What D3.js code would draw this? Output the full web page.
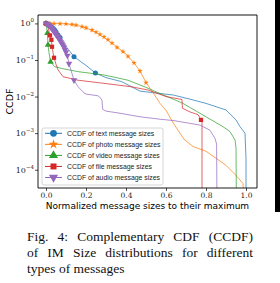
<!DOCTYPE html>
<html><head><meta charset="utf-8">
<script src="https://cdn.jsdelivr.net/npm/d3@7"></script>
<style>body{margin:0;background:#fff}svg{display:block}</style>
</head><body><svg id="c" width="280" height="283"></svg>
<script>
// ---------- data ----------
const xTicks = [0, 0.2, 0.4, 0.6, 0.8, 1.0];
const yTickExps = [0, -1, -2, -3, -4];
const seriesNames = ["CCDF of text message sizes","CCDF of photo message sizes","CCDF of video message sizes","CCDF of file message sizes","CCDF of audio message sizes"];

const textLine = [[0,1],[0.02,0.85],[0.043,0.66],[0.06,0.48],[0.077,0.355],[0.1,0.234],[0.14,0.123],[0.2,0.071],[0.247,0.044],[0.3,0.033],[0.377,0.0257],[0.47,0.0141],[0.55,0.0125],[0.637,0.011],[0.72,0.0085],[0.8,0.0065],[0.9,0.0043],[0.95,0.0023],[0.97,0.0015],[0.995,0.001],[1.0,0.0002],[1.0,0.00001]];
const textMarks = [[0,1],[0.006,0.96],[0.012,0.92],[0.018,0.87],[0.024,0.82],[0.03,0.77],[0.036,0.72],[0.043,0.66],[0.05,0.58],[0.06,0.48],[0.07,0.41],[0.14,0.123],[0.247,0.044]];

const photoLine = [[0,1],[0.05,0.99],[0.1,0.97],[0.15,0.89],[0.2,0.76],[0.25,0.575],[0.3,0.38],[0.35,0.24],[0.4,0.145],[0.44,0.083],[0.47,0.05],[0.5,0.024],[0.537,0.0123],[0.57,0.0065],[0.6,0.0042],[0.637,0.00186],[0.69,0.00068],[0.735,0.00043],[0.8,0.00032],[0.9,0.000132],[0.95,0.00007],[0.985,0.000042],[0.99,0.00001]];
const photoMarks = [[0,1],[0.02,1],[0.04,0.99],[0.07,0.98],[0.1,0.97],[0.13,0.94],[0.15,0.9],[0.18,0.82],[0.2,0.76],[0.23,0.66],[0.25,0.575],[0.27,0.5],[0.29,0.43],[0.31,0.36],[0.33,0.29],[0.355,0.22],[0.385,0.17],[0.41,0.125],[0.44,0.083],[0.47,0.05],[0.5,0.024]];

const videoLine = [[0,1],[0.003,0.79],[0.007,0.54],[0.01,0.257],[0.015,0.158],[0.023,0.089],[0.043,0.066],[0.077,0.059],[0.16,0.048],[0.29,0.039],[0.41,0.028],[0.5,0.0178],[0.55,0.0135],[0.685,0.0065],[0.8,0.0028],[0.885,0.0015],[0.92,0.0011],[0.945,0.00065],[0.95,0.0004],[0.952,0.00001]];
const videoMarks = [[0,1],[0.007,0.54],[0.01,0.257],[0.023,0.089]];

const fileLine = [[0,1],[0.01,0.79],[0.02,0.47],[0.027,0.355],[0.03,0.23],[0.04,0.115],[0.05,0.076],[0.06,0.054],[0.085,0.035],[0.16,0.028],[0.29,0.023],[0.425,0.0186],[0.51,0.0151],[0.6,0.01],[0.68,0.0083],[0.682,0.0048],[0.72,0.0038],[0.76,0.0032],[0.775,0.0023],[0.78,0.0022],[0.78,0.00001]];
const fileMarks = [[0,1],[0.02,0.47],[0.027,0.355],[0.03,0.23],[0.04,0.115],[0.775,0.0023]];

const audioLine = [[0,1],[0.02,0.83],[0.04,0.6],[0.06,0.42],[0.08,0.28],[0.095,0.19],[0.107,0.132],[0.115,0.079],[0.14,0.028],[0.16,0.0186],[0.19,0.0126],[0.2,0.0117],[0.26,0.0105],[0.275,0.0089],[0.28,0.0076],[0.283,0.0045],[0.3,0.004],[0.37,0.0035],[0.47,0.0028],[0.57,0.0024],[0.64,0.0022],[0.77,0.00166],[0.82,0.0012],[0.845,0.00072],[0.853,0.0005],[0.855,0.00001]];
const audioMarks = [[0,1],[0.005,0.97],[0.01,0.93],[0.015,0.88],[0.02,0.83],[0.025,0.77],[0.03,0.71],[0.035,0.65],[0.04,0.6],[0.045,0.55],[0.05,0.5],[0.055,0.46],[0.06,0.42],[0.065,0.38],[0.07,0.34],[0.075,0.31],[0.08,0.28],[0.085,0.25],[0.09,0.22],[0.095,0.19],[0.1,0.165],[0.107,0.132],[0.115,0.079],[0.14,0.028]];

const captionLines = ["Fig. 4: Complementary CDF (CCDF)","of IM Size distributions for different","types of messages"];

// ---------- chart ----------
const colors = ["#1f77b4","#ff7f0e","#2ca02c","#d62728","#9467bd"];
const symbols = [d3.symbolCircle, d3.symbolStar, d3.symbolTriangle, d3.symbolSquare, d3.symbolTriangle];
const rotations = [0,0,0,0,180];
const markSize = [20, 10, 18, 18, 18];
const lines = [textLine, photoLine, videoLine, fileLine, audioLine];
const marks = [textMarks, photoMarks, videoMarks, fileMarks, audioMarks];

const L = 38, R = 257, T = 15, B = 188;
const svg = d3.select("#c");
const x = d3.scaleLinear().domain([-0.04, 1.055]).range([L, R]);
const y = d3.scaleLog().domain([Math.pow(10,-4.5), Math.pow(10,0.23)]).range([B, T]);

svg.append("defs").append("clipPath").attr("id","clip")
  .append("rect").attr("x",L).attr("y",T).attr("width",R-L).attr("height",B-T);

const plot = svg.append("g").attr("clip-path","url(#clip)");
const lineGen = d3.line().x(d=>x(d[0])).y(d=>y(d[1]));

lines.forEach((data,i)=>{
  const g = plot.append("g");
  g.append("path").datum(data).attr("d",lineGen)
    .attr("fill","none").attr("stroke",colors[i]).attr("stroke-width",0.9).attr("stroke-opacity",0.8);
  g.selectAll("path.m").data(marks[i]).join("path").attr("class","m")
    .attr("d", d3.symbol().type(symbols[i]).size(markSize[i]))
    .attr("transform", d=>`translate(${x(d[0])},${y(d[1])}) rotate(${rotations[i]})`)
    .attr("fill",colors[i]);
});

// frame
svg.append("line").attr("x1",L).attr("x2",R).attr("y1",T).attr("y2",T).attr("stroke","#888").attr("stroke-width",2);
svg.append("line").attr("x1",L).attr("x2",L).attr("y1",T).attr("y2",B).attr("stroke","#000").attr("stroke-width",0.9);
svg.append("line").attr("x1",R).attr("x2",R).attr("y1",T).attr("y2",B).attr("stroke","#000").attr("stroke-width",0.9);
svg.append("line").attr("x1",L).attr("x2",R).attr("y1",B).attr("y2",B).attr("stroke","#000").attr("stroke-width",0.9);

// x axis
const xa = svg.append("g").attr("transform",`translate(0,${B})`)
  .call(d3.axisBottom(x).tickValues(xTicks).tickSize(3).tickPadding(1.5).tickFormat(d3.format(".1f")));
xa.select(".domain").remove();
xa.selectAll("text").attr("font-family","'DejaVu Serif', serif").attr("font-size",7.5).attr("fill","#222");
xa.selectAll("line").attr("stroke-width",0.7);

// y axis
const ya = svg.append("g").attr("transform",`translate(${L},0)`)
  .call(d3.axisLeft(y).tickValues(yTickExps.map(e=>Math.pow(10,e))).tickSize(3).tickFormat(""));
ya.select(".domain").remove();
ya.selectAll("line").attr("stroke-width",0.7);
yTickExps.forEach(e=>{
  const t = svg.append("text").attr("x",L-4).attr("y",y(Math.pow(10,e))+3)
    .attr("text-anchor","end").attr("font-family","'DejaVu Serif', serif").attr("font-size",8).attr("fill","#222");
  t.append("tspan").text("10");
  t.append("tspan").attr("dy",-4).attr("font-size",5.5).text(e===0?"0":"\u2212"+(-e));
});

// axis labels
svg.append("text").attr("transform",`translate(13,${(T+B)/2}) rotate(-90)`).attr("text-anchor","middle")
  .attr("font-family","'DejaVu Sans', sans-serif").attr("font-size",9.5).text("CCDF");
svg.append("text").attr("x",(L+R)/2).attr("y",208.5).attr("text-anchor","middle")
  .attr("font-family","'DejaVu Sans', sans-serif").attr("font-size",9).text("Normalized message sizes to their maximum");

// legend
const lg = svg.append("g");
lg.append("rect").attr("x",42).attr("y",128).attr("width",121).attr("height",57).attr("rx",2)
  .attr("fill","#fff").attr("fill-opacity",0.85).attr("stroke","#ccc").attr("stroke-width",0.8);
seriesNames.forEach((n,i)=>{
  const yy = 133.3 + i*11.05;
  lg.append("line").attr("x1",45).attr("x2",62).attr("y1",yy).attr("y2",yy).attr("stroke",colors[i]).attr("stroke-width",1);
  lg.append("path").attr("d",d3.symbol().type(symbols[i]).size(i===1?30:36))
    .attr("transform",`translate(53.5,${yy}) rotate(${rotations[i]})`).attr("fill",colors[i]);
  lg.append("text").attr("x",67).attr("y",yy+2.3).attr("font-family","'Liberation Sans', sans-serif")
    .attr("font-size",6.9).attr("fill","#222").text(n);
});

// caption (justified lines)
const cx0 = 27, cx1 = 253;
captionLines.forEach((s,li)=>{
  const yy = 241 + li*16;
  const words = s.split(" ");
  const t = svg.append("text").attr("y",yy).attr("font-family","'Liberation Serif', 'Times New Roman', serif").attr("font-size",13.5).attr("fill","#111");
  const spans = words.map(w=>t.append("tspan").attr("x",0).text(w));
  const widths = spans.map(sp=>sp.node().getComputedTextLength());
  const total = d3.sum(widths);
  const gap = (li < captionLines.length-1) ? (cx1-cx0-total)/(words.length-1) : 3.4;
  let xx = cx0;
  spans.forEach((sp,i)=>{ sp.attr("x",xx); xx += widths[i] + gap; });
});

// dark strip at the right edge of the scan
svg.append("rect").attr("x",275).attr("y",0).attr("width",5).attr("height",212).attr("fill","#000");
</script></body></html>
